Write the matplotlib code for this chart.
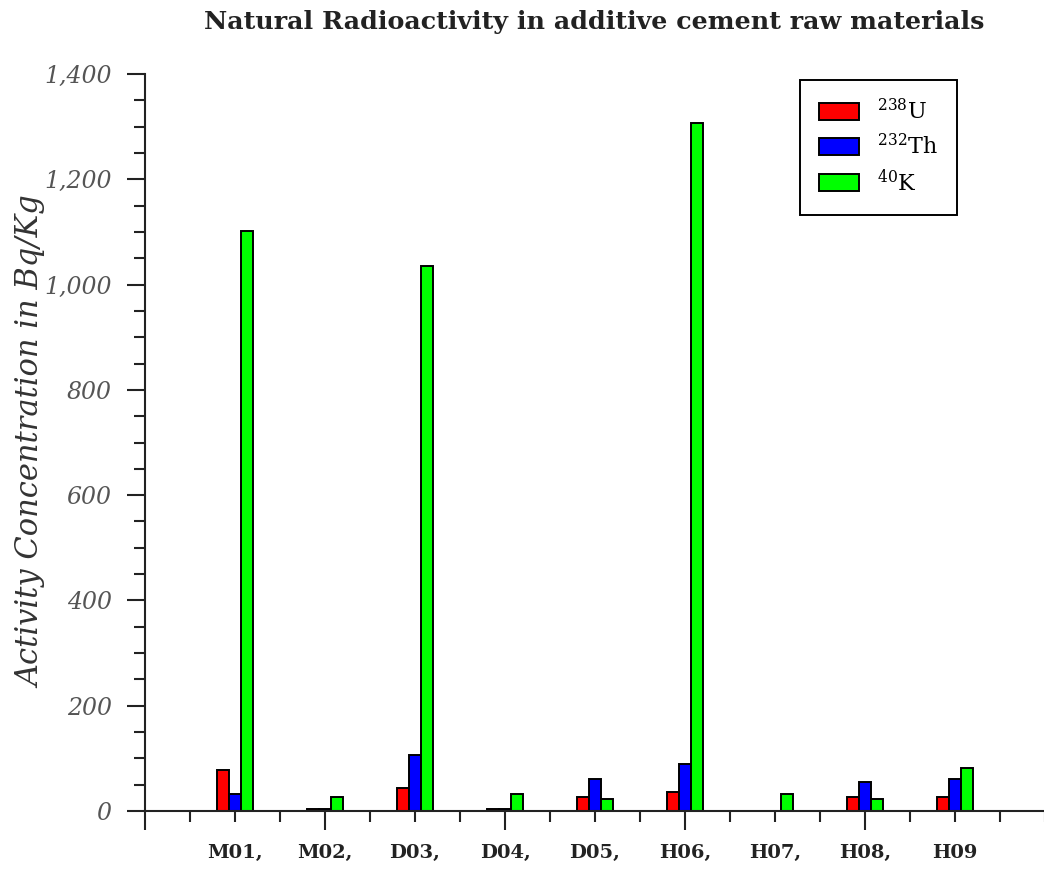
import numpy as np
import matplotlib
matplotlib.use('Agg')
import matplotlib.pyplot as plt

samples = ['M01,', 'M02,', 'D03,', 'D04,', 'D05,', 'H06,', 'H07,', 'H08,', 'H09']
u238 = [78, 3, 44, 3, 27, 36, 0, 27, 27]
th232 = [32, 3, 106, 3, 61, 89, 0, 55, 61]
k40 = [1102, 27, 1035, 32, 23, 1307, 32, 23, 82]
series_labels = ['$^{238}$U', '$^{232}$Th', '$^{40}$K']

plt.rcParams['font.family'] = 'DejaVu Serif'
plt.rcParams['mathtext.fontset'] = 'dejavuserif'

fig = plt.figure(figsize=(10.44, 8.75), dpi=100)
ax = fig.add_axes([145/1044, 64/875, 900/1044, 737/875])

x = np.arange(1, len(samples) + 1)
w = 0.13
kw = dict(width=w, edgecolor='black', linewidth=1.4)
ax.bar(x - w, u238, color='#ff0000', label=series_labels[0], **kw)
ax.bar(x, th232, color='#0000ff', label=series_labels[1], **kw)
ax.bar(x + w, k40, color='#00ff00', label=series_labels[2], **kw)

ax.set_xlim(0, 10)
ax.set_ylim(0, 1400)

for s in ['top', 'right']:
    ax.spines[s].set_visible(False)
for s in ['left', 'bottom']:
    ax.spines[s].set_linewidth(1.5)
    ax.spines[s].set_color('#222222')

# y axis: labelled majors every 200, minors every 50
ax.set_yticks(np.arange(0, 1401, 200))
ax.set_yticks(np.arange(0, 1401, 50), minor=True)
ax.set_yticklabels([f'{v:,}' for v in range(0, 1401, 200)],
                   fontsize=17, style='italic', color='#555555')
ax.tick_params(axis='y', which='major', length=13, width=1.5, color='#222222', pad=11)
ax.tick_params(axis='y', which='minor', length=8, width=1.5, color='#222222')

# x axis: long ticks every 2, short every 0.5, names under each group
ax.set_xticks(np.arange(0, 10, 2))
ax.set_xticks(np.arange(0, 10.01, 0.5), minor=True)
ax.set_xticklabels([])
ax.tick_params(axis='x', which='major', length=14, width=1.5, color='#222222')
ax.tick_params(axis='x', which='minor', length=8, width=1.5, color='#222222')
for xi, name in zip(x, samples):
    ax.text(xi, -0.045, name, transform=ax.get_xaxis_transform(),
            ha='center', va='top', fontsize=14, fontweight='bold', color='#222222')

ax.set_ylabel('Activity Concentration in Bq/Kg', fontsize=22, style='italic',
              color='#333333', labelpad=-2)
fig.text(594/1044, 1 - 22/875, 'Natural Radioactivity in additive cement raw materials',
         ha='center', va='center', fontsize=18.3, fontweight='bold', color='#222222')

leg = ax.legend(loc='upper right', bbox_to_anchor=(0.902, 0.992), fontsize=16,
                fancybox=False, edgecolor='black', framealpha=1, borderaxespad=0,
                handlelength=1.8, handleheight=0.8, borderpad=0.85,
                labelspacing=0.45, handletextpad=0.8)
leg.get_frame().set_linewidth(1.4)

fig.savefig('out.png', dpi=100)
